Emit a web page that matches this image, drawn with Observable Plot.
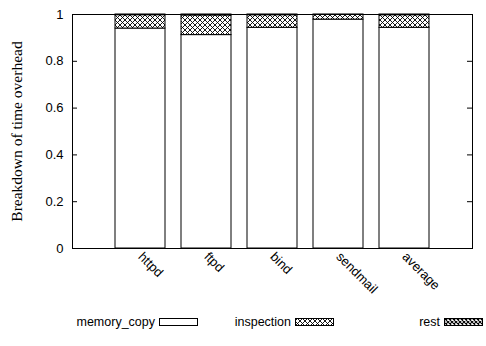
<!DOCTYPE html>
<html>
<head>
<meta charset="utf-8">
<script src="https://cdn.jsdelivr.net/npm/d3@7"></script>
<script src="https://cdn.jsdelivr.net/npm/@observablehq/plot@0.6"></script>
<style>
  html, body { margin: 0; padding: 0; background: white; }
  #wrap { position: relative; width: 486px; height: 346px; overflow: hidden; }
  #legend { position: absolute; left: 0; top: 306px; }
  #legend text { font-family: 'Liberation Sans', Arial, Helvetica, sans-serif; font-size: 12.5px; fill: black; }
</style>
</head>
<body>
<svg width="0" height="0" style="position:absolute">
  <defs>
    <pattern id="pat-insp" patternUnits="userSpaceOnUse" width="5" height="5">
      <rect width="5" height="5" fill="white"/>
      <path d="M0,0 L5,5 M5,0 L0,5" stroke="black" stroke-width="0.9"/>
    </pattern>
    <pattern id="pat-rest" patternUnits="userSpaceOnUse" width="4" height="4">
      <rect width="4" height="4" fill="white"/>
      <path d="M0,0 L4,4 M4,0 L0,4" stroke="black" stroke-width="1.1"/>
    </pattern>
  </defs>
</svg>
<div id="wrap"></div>
<script>
const categories = ["httpd", "ftpd", "bind", "sendmail", "average"];
const seriesNames = ["memory_copy", "inspection", "rest"];
const memoryCopy = [0.940, 0.912, 0.943, 0.978, 0.943];
const inspection = [0.057, 0.084, 0.054, 0.020, 0.054];
const rest = [0.003, 0.004, 0.003, 0.002, 0.003];
const yTicks = [0, 0.2, 0.4, 0.6, 0.8, 1];
const yTickLabels = ["0", "0.2", "0.4", "0.6", "0.8", "1"];
const yLabel = "Breakdown of time overhead";
const seriesFills = ["white", "url(#pat-insp)", "url(#pat-rest)"];

const seriesValues = [memoryCopy, inspection, rest];
const data = categories.flatMap((c, i) =>
  seriesNames.map((s, j) => ({cat: c, series: s, value: seriesValues[j][i]}))
);

const chart = Plot.plot({
  width: 486,
  height: 346,
  marginLeft: 72,
  marginRight: 14,
  marginTop: 14,
  marginBottom: 98,
  style: {fontFamily: "'Liberation Sans', Arial, Helvetica, sans-serif", fontSize: "13px", background: "white", color: "black"},
  x: {type: "band", domain: categories, paddingInner: 0.25, paddingOuter: 0.625, axis: null},
  y: {domain: [0, 1], axis: null},
  color: {domain: seriesNames, range: seriesFills},
  marks: [
    Plot.barY(data, {x: "cat", y: "value", fill: "series", stroke: "black", strokeWidth: 1, order: seriesNames}),
    Plot.axisY(yTicks, {anchor: "left", tickSize: 0, tickPadding: 9, label: null,
      tickFormat: d => yTickLabels[yTicks.indexOf(d)]}),
    Plot.ruleY(yTicks, {insetRight: 395, stroke: "black"}),
    Plot.ruleY(yTicks, {insetLeft: 395, stroke: "black"}),
    Plot.frame({stroke: "black"}),
    Plot.text(categories, {x: d => d, frameAnchor: "bottom", rotate: 45, textAnchor: "start", dx: -3, dy: 9, fontSize: 13}),
    Plot.text([yLabel], {frameAnchor: "left", rotate: -90, dx: -55, textAnchor: "middle",
      fontFamily: "'Liberation Serif', 'Times New Roman', serif", fontSize: 15.5})
  ]
});
document.getElementById("wrap").appendChild(chart);

// legend below the plot area
const legendTextRight = [155, 291, 440];
const ns = "http://www.w3.org/2000/svg";
const leg = document.createElementNS(ns, "svg");
leg.setAttribute("id", "legend");
leg.setAttribute("width", 486);
leg.setAttribute("height", 40);
seriesNames.forEach((s, i) => {
  const t = document.createElementNS(ns, "text");
  t.setAttribute("x", legendTextRight[i]);
  t.setAttribute("y", 20);
  t.setAttribute("text-anchor", "end");
  t.textContent = s;
  leg.appendChild(t);
  const r = document.createElementNS(ns, "rect");
  r.setAttribute("x", legendTextRight[i] + 4.5);
  r.setAttribute("y", 12.5);
  r.setAttribute("width", 38);
  r.setAttribute("height", 7);
  r.setAttribute("fill", seriesFills[i]);
  r.setAttribute("stroke", "black");
  r.setAttribute("stroke-width", 1);
  leg.appendChild(r);
});
document.getElementById("wrap").appendChild(leg);
</script>
</body>
</html>
